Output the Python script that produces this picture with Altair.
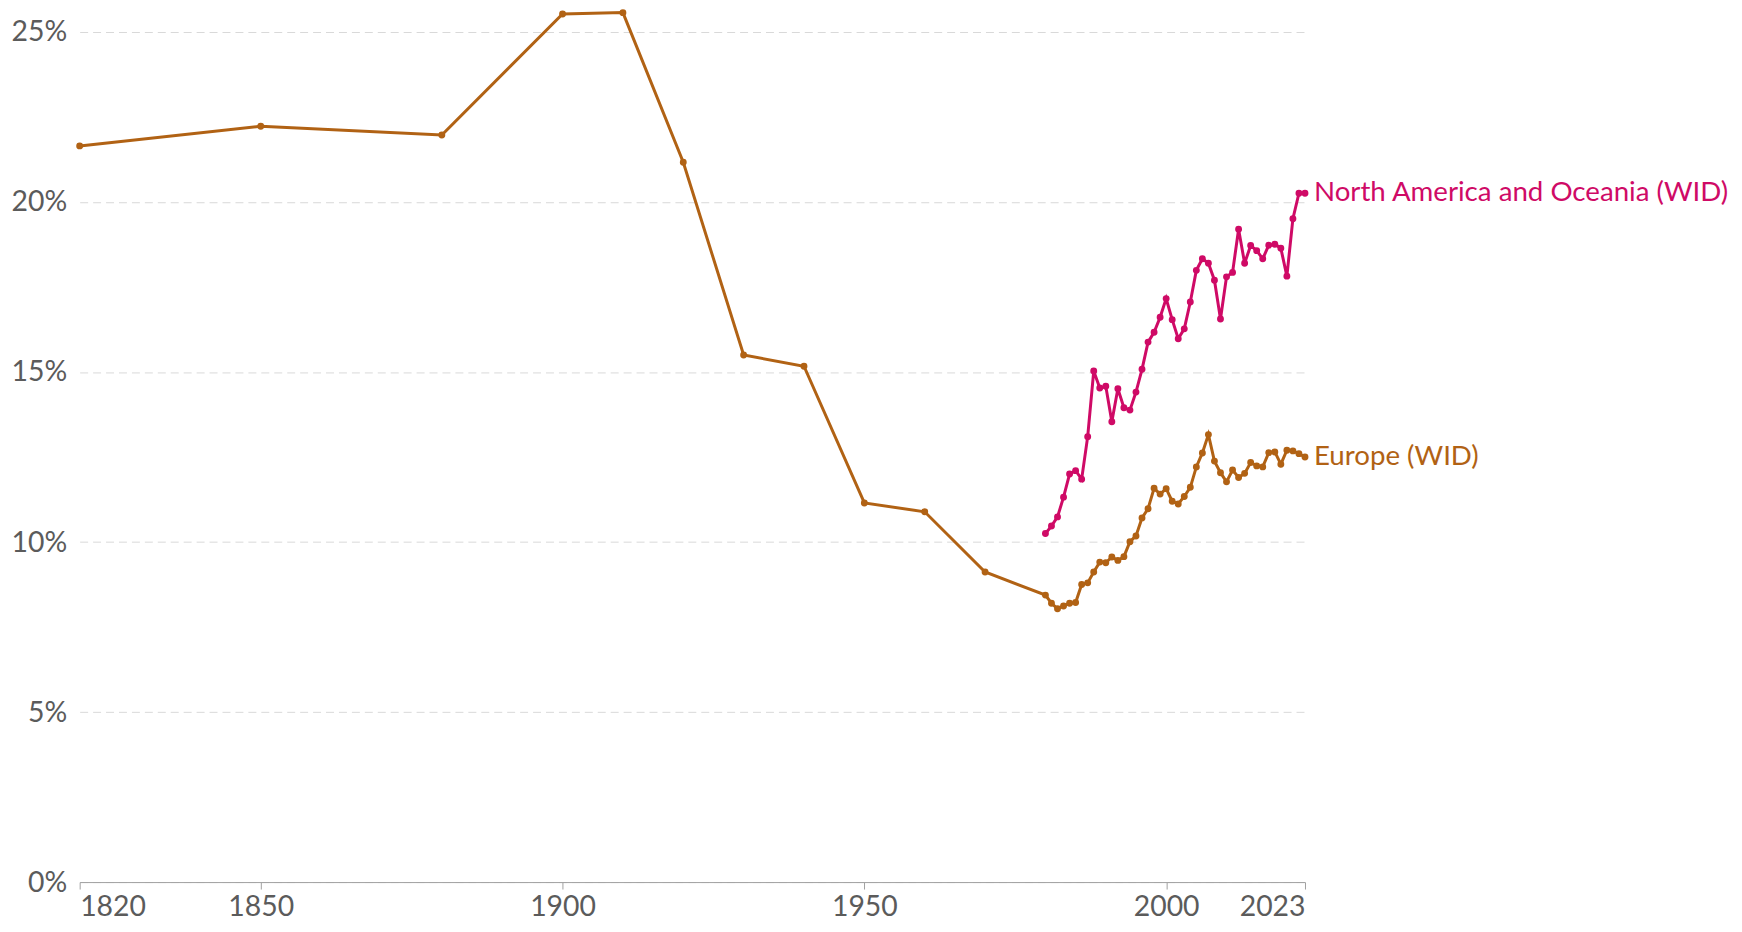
import altair as alt
import pandas as pd

eu_years = [1820, 1850, 1880, 1900, 1910, 1920, 1930, 1940, 1950, 1960, 1970,
            1980, 1981, 1982, 1983, 1984, 1985, 1986, 1987, 1988, 1989,
            1990, 1991, 1992, 1993, 1994, 1995, 1996, 1997, 1998, 1999,
            2000, 2001, 2002, 2003, 2004, 2005, 2006, 2007, 2008, 2009,
            2010, 2011, 2012, 2013, 2014, 2015, 2016, 2017, 2018, 2019,
            2020, 2021, 2022, 2023]
eu_vals = [21.65, 22.23, 21.97, 25.53, 25.57, 21.17, 15.50, 15.17, 11.15, 10.89, 9.12,
           8.44, 8.20, 8.04, 8.12, 8.20, 8.22, 8.75, 8.80, 9.12, 9.41,
           9.39, 9.56, 9.46, 9.57, 10.01, 10.18, 10.71, 10.98, 11.58, 11.41,
           11.57, 11.20, 11.12, 11.34, 11.61, 12.21, 12.62, 13.16, 12.38, 12.04,
           11.77, 12.12, 11.90, 12.02, 12.34, 12.24, 12.21, 12.63, 12.65, 12.29,
           12.70, 12.68, 12.60, 12.50]

na_years = [1980, 1981, 1982, 1983, 1984, 1985, 1986, 1987, 1988, 1989,
            1990, 1991, 1992, 1993, 1994, 1995, 1996, 1997, 1998, 1999,
            2000, 2001, 2002, 2003, 2004, 2005, 2006, 2007, 2008, 2009,
            2010, 2011, 2012, 2013, 2014, 2015, 2016, 2017, 2018, 2019,
            2020, 2021, 2022, 2023]
na_vals = [10.25, 10.47, 10.74, 11.32, 12.00, 12.10, 11.85, 13.10, 15.03, 14.53,
           14.58, 13.54, 14.51, 13.95, 13.88, 14.41, 15.08, 15.88, 16.17, 16.61,
           17.16, 16.54, 15.98, 16.27, 17.06, 17.99, 18.33, 18.20, 17.70, 16.56,
           17.80, 17.93, 19.20, 18.20, 18.72, 18.57, 18.33, 18.73, 18.76, 18.64,
           17.82, 19.51, 20.26, 20.26]

series_names = ["Europe (WID)", "North America and Oceania (WID)"]
series_colors = ["#B16214", "#CF0A66"]
x_ticks = [1820, 1850, 1900, 1950, 2000, 2023]
y_ticks = [0, 5, 10, 15, 20, 25]

df = pd.concat([
    pd.DataFrame({"year": eu_years, "share": eu_vals, "series": series_names[0]}),
    pd.DataFrame({"year": na_years, "share": na_vals, "series": series_names[1]}),
], ignore_index=True)
last = df.sort_values("year").groupby("series", as_index=False).last()

FONT = "Lato"
FS = 28.5

x_enc = alt.X(
    "year:Q",
    scale=alt.Scale(domain=[1820, 2023], nice=False, zero=False),
    axis=alt.Axis(
        values=x_ticks, format="d", title=None, grid=False,
        domainColor="#a0a0a0", tickColor="#a0a0a0", tickSize=7,
        labelPadding=4, labelFlush=True, labelFont=FONT, labelFontSize=FS,
        labelColor="#5b5b5b",
    ),
)
y_enc = alt.Y(
    "share:Q",
    scale=alt.Scale(domain=[0, 25], nice=False),
    axis=alt.Axis(
        values=y_ticks, labelExpr="datum.value + '%'", title=None,
        domain=False, ticks=False, tickSize=0, labelPadding=13,
        grid=True, gridColor="#d9d9d9", gridDash=[8, 5], gridWidth=1,
        labelFont=FONT, labelFontSize=FS, labelColor="#5b5b5b",
    ),
)
color_enc = alt.Color(
    "series:N",
    scale=alt.Scale(domain=series_names, range=series_colors),
    legend=None,
)

base = alt.Chart(df).encode(x=x_enc, y=y_enc, color=color_enc, detail="series:N")
lines = base.mark_line(strokeWidth=3)
points = base.mark_circle(size=48, opacity=1)
labels = alt.Chart(last).mark_text(
    align="left", baseline="middle", dx=9, font=FONT, fontSize=27.8
).encode(
    x=alt.X("year:Q"), y=alt.Y("share:Q"), text="series:N", color=color_enc
)

chart = alt.layer(lines, points, labels).properties(
    width=1231,
    height=854,
    autosize=alt.AutoSizeParams(type="none"),
    padding={"left": 72, "top": 22, "right": 431, "bottom": 40},
).configure_view(stroke=None)

chart.save("out.html", embed_options={"renderer": "svg", "actions": False})
